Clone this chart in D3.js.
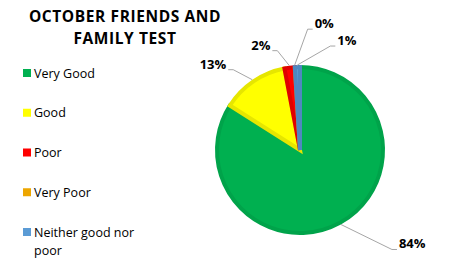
<!DOCTYPE html>
<html>
<head>
<meta charset="utf-8">
<script src="https://cdn.jsdelivr.net/npm/d3@7"></script>
<style>
  body { margin: 0; background: #fff; }
  text { font-family: "Open Sans", "Liberation Sans", sans-serif; }
</style>
</head>
<body>
<div id="chart"></div>
<script>
// chart data
const categories = ["Very Good", "Good", "Poor", "Very Poor", "Neither good nor poor"];
const values = [84, 13, 2, 0, 1];
const fills = ["#00B050", "#FFFF00", "#FF0000", "#EDA600", "#5B9BD5"];
const borders = ["#00A34A", "#E6E600", "#E00000", "#D69600", "#4F88C0"];
const titleLines = ["OCTOBER FRIENDS AND", "FAMILY TEST"];

// leader elbow offsets from the slice edge, per label
const labelOffsets = [[51, 25, 1], [-19, -10, -1], [-12, -15, -1], [13, -36, 1], [33, -19, 1]];

const width = 455, height = 274;
const cx = 300, cy = 150, radius = 83;

const svg = d3.select("#chart").append("svg")
  .attr("width", width)
  .attr("height", height);

// title
svg.append("text")
  .attr("x", 125)
  .attr("y", 22)
  .attr("text-anchor", "middle")
  .attr("font-size", "15.5px")
  .attr("font-weight", "bold")
  .attr("letter-spacing", "0.6px")
  .attr("fill", "#000")
  .selectAll("tspan")
  .data(titleLines)
  .join("tspan")
  .attr("x", 125)
  .attr("dy", (d, i) => i ? 21.5 : 0)
  .text(d => d);

// legend
const legend = svg.append("g").attr("class", "legend");
const legendY = d3.scalePoint().domain(categories).range([73, 232]);

legend.selectAll("rect")
  .data(categories)
  .join("rect")
  .attr("x", 23)
  .attr("y", d => legendY(d) - 4)
  .attr("width", 8)
  .attr("height", 8)
  .attr("fill", (d, i) => fills[i]);

legend.selectAll("text")
  .data(categories)
  .join("text")
  .attr("x", 34)
  .attr("y", d => legendY(d) + 4.5)
  .attr("font-size", "12.5px")
  .attr("fill", "#000")
  .each(function(d) {
    // wrap the long label like the original
    const words = d === "Neither good nor poor" ? ["Neither good nor", "poor"] : [d];
    d3.select(this).selectAll("tspan")
      .data(words)
      .join("tspan")
      .attr("x", 34)
      .attr("dy", (w, i) => i ? 18 : 0)
      .text(w => w);
  });

// pie
const pie = d3.pie().sort(null).value(d => d);
const arcs = pie(values);
const arc = d3.arc().innerRadius(0).outerRadius(radius);

const g = svg.append("g").attr("transform", `translate(${cx},${cy})`);

g.selectAll("path")
  .data(arcs)
  .join("path")
  .attr("d", arc)
  .attr("fill", (d, i) => fills[i])
  .attr("stroke", (d, i) => borders[i])
  .attr("stroke-width", 4)
  .attr("stroke-linejoin", "miter");

// labels with leader lines
const edgeR = radius + 2;
arcs.forEach((d, i) => {
  const a = (d.startAngle + d.endAngle) / 2;
  const sx = Math.sin(a) * edgeR, sy = -Math.cos(a) * edgeR;
  const [dx, dy, side] = labelOffsets[i];
  const ex = sx + dx, ey = sy + dy;
  const hx = ex + side * 5;
  g.append("polyline")
    .attr("points", `${sx},${sy} ${ex},${ey} ${hx},${ey}`)
    .attr("fill", "none")
    .attr("stroke", "#A6A6A6")
    .attr("stroke-width", 1);
  g.append("text")
    .attr("x", hx + side * 2)
    .attr("y", ey - 1)
    .attr("text-anchor", side > 0 ? "start" : "end")
    .attr("font-size", "13px")
    .attr("font-weight", "bold")
    .attr("fill", "#000")
    .text(Math.round(d.data) + "%");
});
</script>
</body>
</html>
